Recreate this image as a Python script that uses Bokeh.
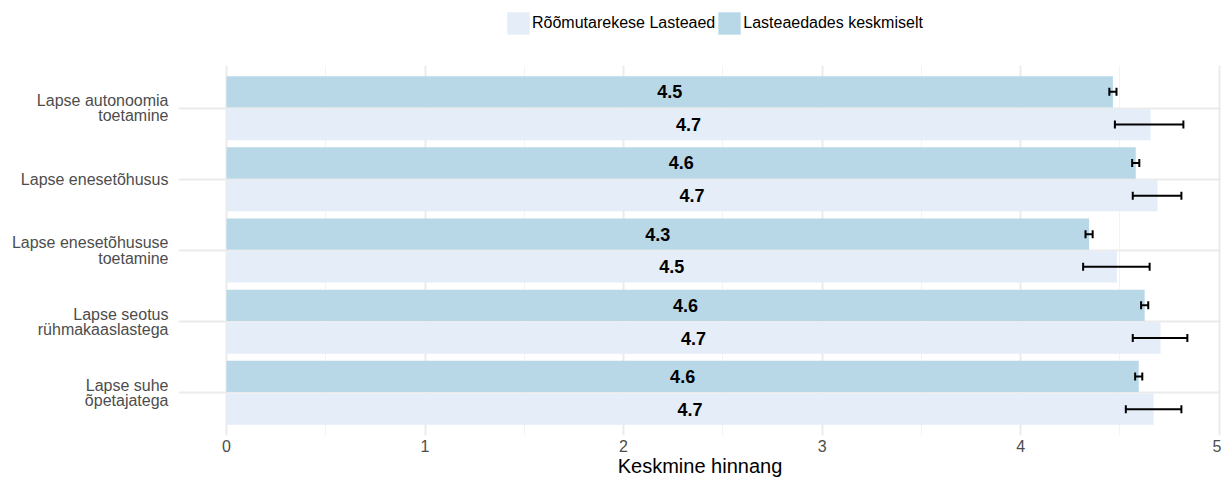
from bokeh.plotting import figure
from bokeh.layouts import column
from bokeh.models import (ColumnDataSource, FactorRange, Range1d, Whisker, TeeHead,
                          Legend, LegendItem, SingleIntervalTicker)
from bokeh.transform import dodge
from bokeh.core.properties import value
from bokeh.embed import file_html
from bokeh.resources import INLINE

categories = ["Lapse autonoomia\ntoetamine", "Lapse enesetõhusus",
              "Lapse enesetõhususe\ntoetamine", "Lapse seotus\nrühmakaaslastega",
              "Lapse suhe\nõpetajatega"]
school_name = "Rõõmutarekese Lasteaed"
avg_name = "Lasteaedades keskmiselt"
school_mean = [4.655, 4.69, 4.485, 4.705, 4.67]
school_low = [4.475, 4.565, 4.315, 4.565, 4.53]
school_high = [4.82, 4.81, 4.65, 4.84, 4.81]
avg_mean = [4.465, 4.58, 4.345, 4.625, 4.595]
avg_low = [4.447, 4.562, 4.327, 4.607, 4.577]
avg_high = [4.483, 4.598, 4.363, 4.643, 4.613]

FONT = "Liberation Sans"
DARK = "#b8d8e8"
LIGHT = "#e4edf8"
W = 1221
LEG_H = 65
LEFT = 178

src = ColumnDataSource(dict(
    cat=categories,
    s_mean=school_mean, s_low=school_low, s_high=school_high,
    s_lab=[f"{v:.1f}" for v in school_mean], s_x=[v / 2 for v in school_mean],
    a_mean=avg_mean, a_low=avg_low, a_high=avg_high,
    a_lab=[f"{v:.1f}" for v in avg_mean], a_x=[v / 2 for v in avg_mean],
))

y_range = FactorRange(*categories[::-1], range_padding=0.04)
p = figure(width=W, height=479 - LEG_H, y_range=y_range, x_range=Range1d(-0.242, 5.012),
           output_backend="svg", toolbar_location=None,
           min_border_left=LEFT, min_border_right=0, min_border_top=0, min_border_bottom=44)
p.outline_line_color = None
p.background_fill_color = "white"

OFF = 0.23
H = 0.44
r_avg = p.hbar(y=dodge("cat", OFF, range=p.y_range), right="a_mean", left=0, height=H,
               source=src, fill_color=DARK, line_color=None)
r_sch = p.hbar(y=dodge("cat", -OFF, range=p.y_range), right="s_mean", left=0, height=H,
               source=src, fill_color=LIGHT, line_color=None)

for off, xcol, lcol in [(OFF, "a_x", "a_lab"), (-OFF, "s_x", "s_lab")]:
    p.text(x=xcol, y=dodge("cat", off, range=p.y_range), text=lcol, source=src,
           text_align="center", text_baseline="middle", text_font=value(FONT),
           text_font_size="18px", text_font_style="bold", text_color="black")

for base_off, lo, hi in [(OFF, "a_low", "a_high"), (-OFF, "s_low", "s_high")]:
    w = Whisker(source=src, base=dodge("cat", base_off, range=p.y_range), lower=lo, upper=hi,
                dimension="width", line_width=2, line_color="black", level="overlay",
                lower_head=TeeHead(size=8, line_width=2, line_color="black"),
                upper_head=TeeHead(size=8, line_width=2, line_color="black"))
    p.add_layout(w)

# axes
p.xaxis.ticker = SingleIntervalTicker(interval=1, num_minor_ticks=2)
p.xaxis.axis_line_color = None
p.xaxis.major_tick_line_color = None
p.xaxis.minor_tick_line_color = None
p.xaxis.major_tick_out = 0
p.xaxis.minor_tick_out = 0
p.xaxis.major_label_text_font = FONT
p.xaxis.major_label_text_font_size = "16px"
p.xaxis.major_label_text_color = "#4d4d4d"
p.xaxis.major_label_standoff = 4
p.xaxis.axis_label = "Keskmine hinnang"
p.xaxis.axis_label_text_font = FONT
p.xaxis.axis_label_text_font_size = "20px"
p.xaxis.axis_label_text_font_style = "normal"
p.xaxis.axis_label_text_color = "black"
p.xaxis.axis_label_standoff = 0

p.yaxis.axis_line_color = None
p.yaxis.major_tick_line_color = None
p.yaxis.minor_tick_line_color = None
p.yaxis.major_tick_out = 0
p.yaxis.minor_tick_out = 0
p.yaxis.major_label_text_font = FONT
p.yaxis.major_label_text_font_size = "16px"
p.yaxis.major_label_text_color = "#4d4d4d"
p.yaxis.major_label_text_line_height = 0.9
p.yaxis.major_label_standoff = 10

p.xgrid.grid_line_color = "#ebebeb"
p.xgrid.grid_line_width = 2
p.xgrid.minor_grid_line_color = "#f3f3f3"
p.xgrid.minor_grid_line_width = 1
p.ygrid.grid_line_color = "#ebebeb"
p.ygrid.grid_line_width = 2

# legend strip on top; its swatch renderers are zero-sized bars (only the legend shows them)
lg = figure(width=W, height=LEG_H, output_backend="svg", toolbar_location=None,
            min_border=0, x_range=Range1d(0, 10), y_range=Range1d(0, 10))
lg.outline_line_color = None
lg.axis.visible = False
lg.grid.visible = False
l_sch = lg.hbar(y="s_mean", left=0, right=0, height=0, source=src,
                fill_color=LIGHT, line_color=None)
l_avg = lg.hbar(y="a_mean", left=0, right=0, height=0, source=src,
                fill_color=DARK, line_color=None)
legend = Legend(items=[LegendItem(label=school_name, renderers=[l_sch]),
                       LegendItem(label=avg_name, renderers=[l_avg])],
                orientation="horizontal", location=(504 - LEFT, LEG_H - 37),
                glyph_width=28, glyph_height=28, label_standoff=0, spacing=0,
                padding=0, margin=0, border_line_color=None, background_fill_alpha=0,
                label_text_font=FONT, label_text_font_size="16px", label_text_color="black")
lg.add_layout(legend, "center")

layout = column(lg, p, spacing=0)
open("out.html", "w").write(file_html(layout, INLINE))
